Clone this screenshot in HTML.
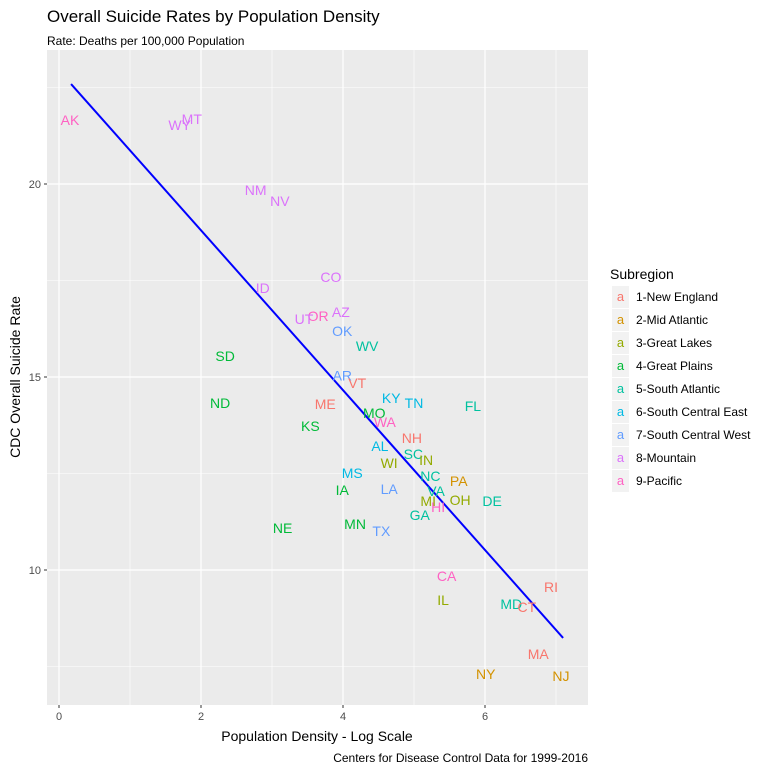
<!DOCTYPE html>
<html><head><meta charset="utf-8"><style>
body{margin:0;background:#fff;font-family:"Liberation Sans",Arial,sans-serif}
svg text{font-family:"Liberation Sans",Arial,sans-serif}
</style></head><body>
<svg id="chart" width="768" height="768" viewBox="0 0 768 768" xmlns="http://www.w3.org/2000/svg">
<rect width="768" height="768" fill="#fff"/>
<text x="47" y="22" font-size="17" fill="#000">Overall Suicide Rates by Population Density</text>
<text x="47" y="45" font-size="12" fill="#000">Rate: Deaths per 100,000 Population</text>
<rect x="47" y="50" width="541" height="655" fill="#EBEBEB"/>
<g id="grid"></g>
<g id="marks"></g>
<g id="axes"></g>
<text x="317" y="741" font-size="14" text-anchor="middle" fill="#000">Population Density - Log Scale</text>
<text transform="translate(20,377) rotate(-90)" font-size="14" text-anchor="middle" fill="#000">CDC Overall Suicide Rate</text>
<text x="588" y="762" font-size="12" text-anchor="end" fill="#000">Centers for Disease Control Data for 1999-2016</text>
<g id="legend"></g>
</svg>
<script>
const states=["AK","WY","MT","NM","NV","CO","ID","AZ","OR","UT","OK","WV","SD","AR","VT","KY","TN","FL","ND","ME","MO","WA","KS","NH","AL","SC","IN","WI","MS","NC","PA","IA","LA","VA","MI","OH","DE","HI","GA","MN","NE","TX","CA","RI","IL","MD","CT","MA","NY","NJ"];
const density=[0.155,1.70,1.87,2.77,3.11,3.83,2.87,3.97,3.65,3.45,3.99,4.34,2.34,3.99,4.20,4.68,5.00,5.83,2.27,3.75,4.44,4.59,3.54,4.97,4.52,4.99,5.17,4.65,4.13,5.23,5.63,3.99,4.65,5.31,5.20,5.65,6.10,5.34,5.08,4.17,3.15,4.54,5.46,6.93,5.41,6.37,6.59,6.75,6.01,7.07];
const rate=[21.66,21.53,21.68,19.84,19.56,17.59,17.31,16.68,16.58,16.50,16.19,15.80,15.54,15.04,14.85,14.46,14.33,14.25,14.33,14.30,14.07,13.83,13.73,13.42,13.21,13.0,12.85,12.77,12.51,12.44,12.31,12.07,12.10,12.05,11.79,11.81,11.79,11.63,11.42,11.19,11.09,11.01,9.84,9.56,9.22,9.12,9.04,7.82,7.31,7.25];
const subregion=[9,8,8,8,8,8,8,8,9,8,7,5,4,7,1,6,6,5,4,1,4,9,4,1,6,5,3,3,6,5,2,4,7,5,3,3,5,9,5,4,4,7,9,1,3,5,1,1,2,2];
const subregionNames=["1-New England","2-Mid Atlantic","3-Great Lakes","4-Great Plains","5-South Atlantic","6-South Central East","7-South Central West","8-Mountain","9-Pacific"];
const xTicks=[0,2,4,6];
const yTicks=[10,15,20];
const xMinor=[1,3,5,7];
const yMinor=[7.5,12.5,17.5,22.5];
const fitLine=[[0.17,22.59],[7.10,8.24]];
const colors=["#F8766D","#D39200","#93AA00","#00BA38","#00C19F","#00B9E3","#619CFF","#DB72FB","#FF61C3"];
const X=v=>59+v*71, Y=v=>570-(v-10)*38.6;
const NS="http://www.w3.org/2000/svg";
function mk(tag,attrs,parent){const e=document.createElementNS(NS,tag);for(const k in attrs)e.setAttribute(k,attrs[k]);parent.appendChild(e);return e;}
const grid=document.getElementById('grid'),marks=document.getElementById('marks'),axes=document.getElementById('axes'),legend=document.getElementById('legend');
xMinor.forEach(v=>{const l=mk('line',{x1:X(v),x2:X(v),y1:50,y2:705,stroke:'#fff','stroke-width':0.6},grid);

});
yMinor.forEach(v=>{const l=mk('line',{x1:47,x2:588,y1:Y(v),y2:Y(v),stroke:'#fff','stroke-width':0.6},grid);

});
xTicks.forEach(v=>{const l=mk('line',{x1:X(v),x2:X(v),y1:50,y2:705,stroke:'#fff','stroke-width':1.2},grid);


const t=mk('text',{x:X(v),y:720,'font-size':11,'text-anchor':'middle',fill:'#4D4D4D'},axes);t.textContent=v;


mk('line',{x1:X(v),x2:X(v),y1:705,y2:708,stroke:'#333'},axes);});
yTicks.forEach(v=>{const l=mk('line',{x1:47,x2:588,y1:Y(v),y2:Y(v),stroke:'#fff','stroke-width':1.2},grid);


const t=mk('text',{x:41,y:Y(v)+4,'font-size':11,'text-anchor':'end',fill:'#4D4D4D'},axes);t.textContent=v;


mk('line',{x1:44,x2:47,y1:Y(v),y2:Y(v),stroke:'#333'},axes);});
const fl=mk('line',{x1:X(fitLine[0][0]),y1:Y(fitLine[0][1]),x2:X(fitLine[1][0]),y2:Y(fitLine[1][1]),stroke:'#0000FF','stroke-width':2},marks);


states.forEach((s,i)=>{const t=mk('text',{x:X(density[i]),y:Y(rate[i])+5,'font-size':14,'text-anchor':'middle',fill:colors[subregion[i]-1]},marks);t.textContent=s;

});
const lt=mk('text',{x:610,y:279,'font-size':14,fill:'#000'},legend);lt.textContent='Subregion';


subregionNames.forEach((n,i)=>{const y=297+i*23;
const g=mk('g',{},legend);


mk('rect',{x:612,y:y-11,width:17,height:22,fill:'#F2F2F2'},g);
const a=mk('text',{x:620.5,y:y+4,'font-size':13,'text-anchor':'middle',fill:colors[i]},g);a.textContent='a';
const t=mk('text',{x:636,y:y+4,'font-size':12,fill:'#000'},g);t.textContent=n;});
</script>
</body></html>
